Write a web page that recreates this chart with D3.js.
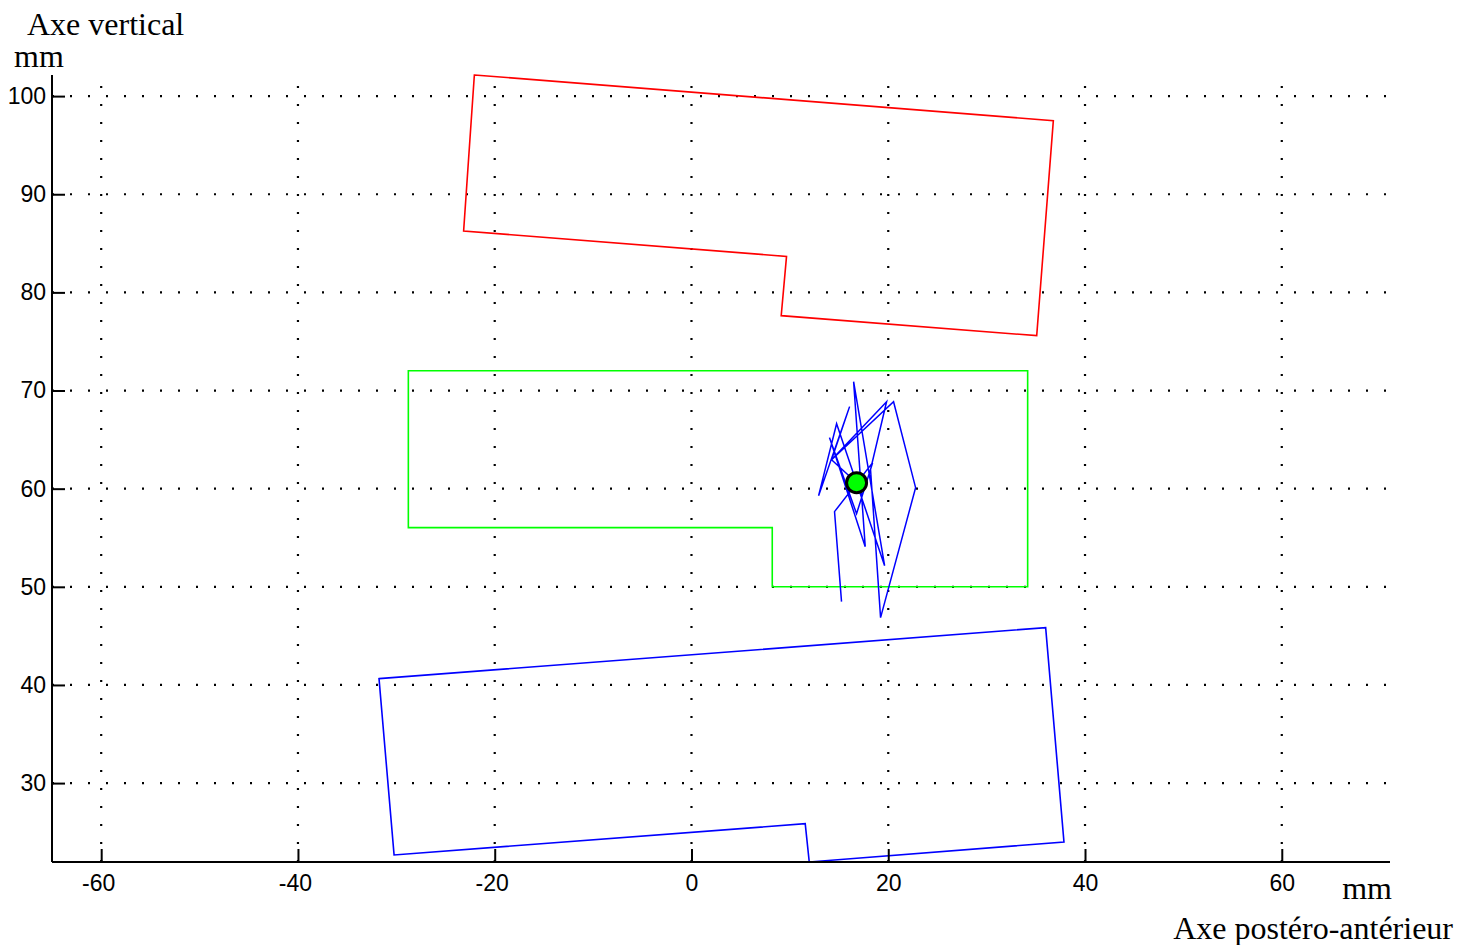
<!DOCTYPE html>
<html>
<head>
<meta charset="utf-8">
<script src="https://cdn.jsdelivr.net/npm/d3@7"></script>
<style>
  html, body { margin: 0; padding: 0; background: #fff; }
  svg { display: block; }
</style>
</head>
<body>
<svg id="chart" width="1458" height="945"></svg>
<script>
// ---- Data ----
const xTicks = [-60, -40, -20, 0, 20, 40, 60];
const yTicks = [30, 40, 50, 60, 70, 80, 90, 100];

const redPolygon = [
  [-22.07, 102.15], [36.78, 97.50], [35.09, 75.59],
  [9.12, 77.63], [9.66, 83.67], [-23.16, 86.26]
];
const greenPolygon = [
  [-28.78, 72.02], [34.17, 72.02], [34.17, 50.01],
  [8.21, 50.01], [8.21, 56.03], [-28.78, 56.03]
];
const bluePolygon = [
  [-31.76, 40.64], [36.0, 45.84], [37.86, 24.0],
  [11.97, 21.96], [11.56, 25.86], [-30.23, 22.68]
];
const trajectory = [
  [15.25, 48.49], [14.54, 57.66], [18.41, 62.65], [16.78, 57.45],
  [14.03, 65.20], [17.66, 54.09], [16.48, 70.90], [19.63, 52.15],
  [14.75, 66.62], [12.92, 59.29], [16.07, 68.36], [14.24, 62.95],
  [20.54, 68.86], [22.78, 60.10], [19.22, 46.86], [18.20, 61.94],
  [19.83, 68.86], [14.24, 62.95], [16.78, 60.61]
];
const centerPoint = [16.78, 60.61];

const xDomain = [-65, 71];
const allY = [...redPolygon, ...greenPolygon, ...bluePolygon, ...trajectory].map(d => d[1]);
const yDomain = d3.extent(allY);

// ---- Layout ----
const svg = d3.select("#chart");
const mLeft = 52, mRight = 1390, mTop = 75, mBottom = 862;

const x = d3.scaleLinear().domain(xDomain).range([mLeft, mRight]);
const y = d3.scaleLinear().domain(yDomain).range([mBottom, mTop]);

// grid
const grid = svg.append("g").attr("stroke", "#000").attr("stroke-width", 2.2)
  .attr("stroke-dasharray", "2,16").attr("fill", "none");
xTicks.forEach(t => {
  grid.append("line").attr("x1", x(t)).attr("x2", x(t))
    .attr("y1", mBottom).attr("y2", mTop);
});
yTicks.forEach(t => {
  grid.append("line").attr("x1", mLeft).attr("x2", mRight)
    .attr("y1", y(t)).attr("y2", y(t));
});

// polygons
const line = d3.line().x(d => x(d[0])).y(d => y(d[1]));
const closed = pts => line(pts) + "Z";

svg.append("path").attr("d", closed(redPolygon))
  .attr("fill", "none").attr("stroke", "#ff0000").attr("stroke-width", 1.6);
svg.append("path").attr("d", closed(greenPolygon))
  .attr("fill", "none").attr("stroke", "#00ff00").attr("stroke-width", 1.6);
svg.append("path").attr("d", closed(bluePolygon))
  .attr("fill", "none").attr("stroke", "#0000ff").attr("stroke-width", 1.6);
svg.append("path").attr("d", line(trajectory))
  .attr("fill", "none").attr("stroke", "#0000ff").attr("stroke-width", 1.5)
  .attr("stroke-linejoin", "miter");

svg.append("circle").attr("cx", x(centerPoint[0])).attr("cy", y(centerPoint[1]))
  .attr("r", 10).attr("fill", "#00ff00").attr("stroke", "#000").attr("stroke-width", 3);

// axes
const xAxis = d3.axisBottom(x).tickValues(xTicks).tickSizeInner(-13).tickSizeOuter(0).tickPadding(13)
  .tickFormat(d => d);
const yAxis = d3.axisLeft(y).tickValues(yTicks).tickSizeInner(-13).tickSizeOuter(0).tickPadding(6)
  .tickFormat(d => d);

const gx = svg.append("g").attr("transform", `translate(0,${mBottom})`).call(xAxis);
const gy = svg.append("g").attr("transform", `translate(${mLeft},0)`).call(yAxis);
[gx, gy].forEach(g => {
  g.select(".domain").attr("stroke", "#000").attr("stroke-width", 2);
  g.selectAll(".tick line").attr("stroke", "#000").attr("stroke-width", 2);
  g.selectAll(".tick text").attr("fill", "#000")
    .attr("font-family", "'Liberation Sans', Arial, sans-serif").attr("font-size", 23);
});
gx.selectAll(".tick text").attr("dx", d => d < 0 ? "-3" : "0");
gx.select(".domain").attr("d", `M${mLeft},0H${mRight}`);
gy.select(".domain").attr("d", `M0,${mBottom}V${mTop}`);

// labels
const serif = "'Liberation Serif', 'Times New Roman', serif";
svg.append("text").attr("x", 27).attr("y", 35).text("Axe vertical")
  .attr("font-family", serif).attr("font-size", 32).attr("fill", "#000");
svg.append("text").attr("x", 14).attr("y", 67).text("mm")
  .attr("font-family", serif).attr("font-size", 32).attr("fill", "#000");
svg.append("text").attr("x", 1392).attr("y", 899).attr("text-anchor", "end").text("mm")
  .attr("font-family", serif).attr("font-size", 32).attr("fill", "#000");
svg.append("text").attr("x", 1453).attr("y", 939).attr("text-anchor", "end").text("Axe postéro-antérieur")
  .attr("font-family", serif).attr("font-size", 32).attr("fill", "#000");
</script>
</body>
</html>
